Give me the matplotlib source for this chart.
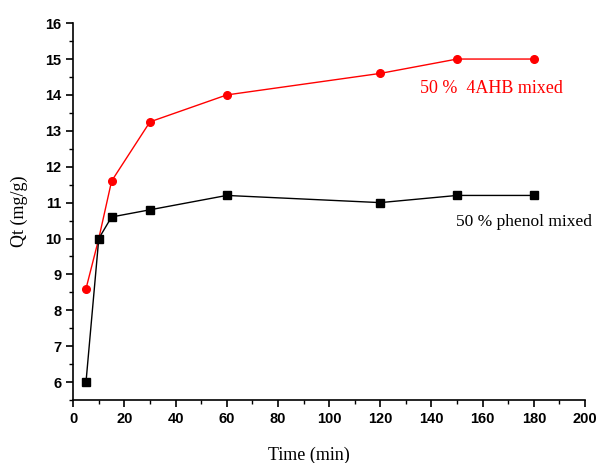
import matplotlib
matplotlib.use("Agg")
import matplotlib.pyplot as plt
from matplotlib.ticker import MultipleLocator

time = [5, 10, 15, 30, 60, 120, 150, 180]
phenol = [6.0, 10.0, 10.6, 10.8, 11.2, 11.0, 11.2, 11.2]
ahb = [8.6, 10.0, 11.6, 13.25, 14.0, 14.6, 15.0, 15.0]

fig = plt.figure(figsize=(6, 4.63), dpi=100)
ax = fig.add_axes([0.122, 0.136, 0.853, 0.814])

ax.plot(time, ahb, color="red", lw=1, marker="o", ms=5.5, zorder=3)
ax.plot(time, phenol, color="black", lw=1, marker="s", ms=5.5, zorder=3)

ax.set_xlim(0, 200)
ax.set_ylim(5.5, 16)
ax.xaxis.set_major_locator(MultipleLocator(20))
ax.xaxis.set_minor_locator(MultipleLocator(10))
ax.yaxis.set_major_locator(MultipleLocator(1))
ax.yaxis.set_minor_locator(MultipleLocator(0.5))

for s in ["top", "right"]:
    ax.spines[s].set_visible(False)
for s in ["left", "bottom"]:
    ax.spines[s].set_linewidth(1.2)

ax.tick_params(which="major", direction="out", length=5, width=1.2, labelsize=10.5)
ax.tick_params(which="minor", direction="out", length=3, width=1)
for lab in ax.get_xticklabels() + ax.get_yticklabels():
    lab.set_fontweight("bold")
    lab.set_family("Liberation Sans")

ax.set_xlabel("Time (min)", family="Liberation Serif", fontsize=13)
ax.xaxis.set_label_coords(0.46, -0.125)
ax.set_ylabel("Qt (mg/g)", family="Liberation Serif", fontsize=13, labelpad=12)

ax.text(135.5, 14.18, "50 %  4AHB mixed", color="red", family="Liberation Serif",
        fontsize=13, va="center", ha="left")
ax.text(149.5, 10.47, "50 % phenol mixed", color="black", family="Liberation Serif",
        fontsize=12.5, va="center", ha="left")

fig.savefig("out.png", dpi=100)
